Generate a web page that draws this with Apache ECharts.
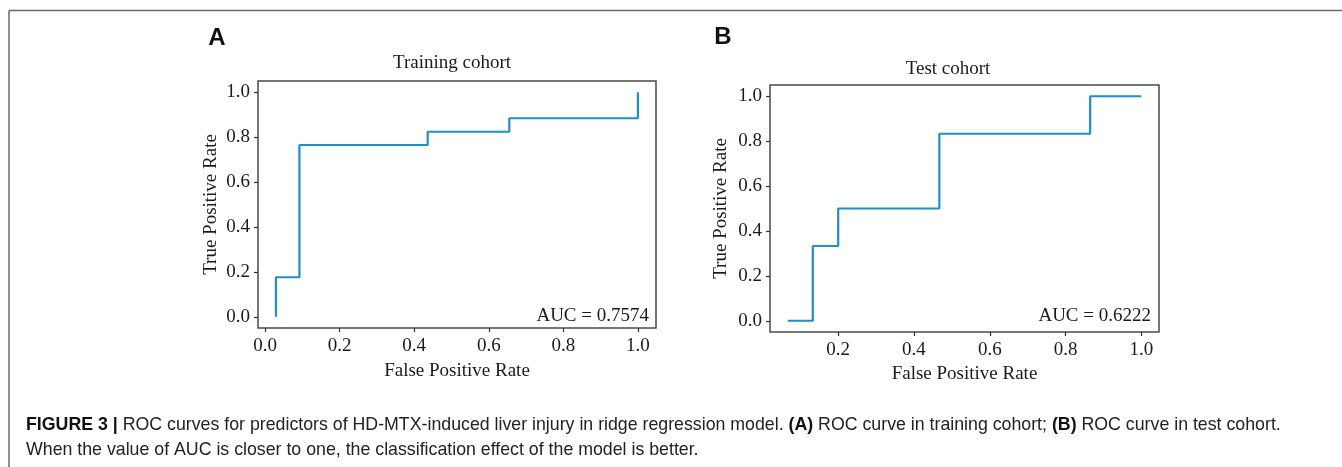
<!DOCTYPE html>
<html><head><meta charset="utf-8">
<script src="https://cdn.jsdelivr.net/npm/echarts@6/dist/echarts.min.js"></script>
<style>html,body{margin:0;padding:0;background:#fff}#c{width:1342px;height:467px}</style>
</head><body><div id="c"></div>
<script>
// ---- data ----
const xTicksA = [0.0, 0.2, 0.4, 0.6, 0.8, 1.0];
const xTicksB = [0.2, 0.4, 0.6, 0.8, 1.0];
const yTicks = [0.0, 0.2, 0.4, 0.6, 0.8, 1.0];
const trainFpr = [0.029, 0.029, 0.092, 0.092, 0.436, 0.436, 0.655, 0.655, 1.0, 1.0];
const trainTpr = [0.0, 0.176, 0.176, 0.765, 0.765, 0.824, 0.824, 0.884, 0.884, 1.0];
const testFpr = [0.067, 0.133, 0.133, 0.2, 0.2, 0.467, 0.467, 0.865, 0.865, 1.0];
const testTpr = [0.0, 0.0, 0.333, 0.333, 0.5, 0.5, 0.833, 0.833, 1.0, 1.0];
const titles = ['Training cohort', 'Test cohort'];
const aucLabels = ['AUC = 0.7574', 'AUC = 0.6222'];
const panelLetters = ['A', 'B'];
const xName = 'False Positive Rate';
const yName = 'True Positive Rate';
const captionLine1 = '{b|FIGURE 3 |} ROC curves for predictors of HD-MTX-induced liver injury in ridge regression model. {b|(A)} ROC curve in training cohort; {b|(B)} ROC curve in test cohort.';
const captionLine2 = 'When the value of AUC is closer to one, the classification effect of the model is better.';

// ---- style ----
const SERIF = '"Liberation Serif","Times New Roman",serif';
const SANS = '"Liberation Sans",Arial,sans-serif';
const TXT = '#1a1a1a';
const LINE = '#1f8fc8';
const FS = 19;
const CFS = 17.75;

function xAxis(gi, min, max, ticks, gap) {
  return {
    type: 'value', gridIndex: gi, min: min, max: max,
    name: xName, nameLocation: 'middle', nameGap: gap,
    nameTextStyle: {fontFamily: SERIF, fontSize: FS, color: TXT},
    axisLine: {show: false, onZero: false},
    axisTick: {show: true, inside: false, customValues: ticks, length: 4, lineStyle: {color: '#333', width: 1.2}},
    axisLabel: {customValues: ticks, formatter: v => v.toFixed(1), margin: 9, fontFamily: SERIF, fontSize: FS, color: TXT},
    splitLine: {show: false}
  };
}
function yAxis(gi, gap) {
  return {
    type: 'value', gridIndex: gi, min: -0.05, max: 1.05,
    name: yName, nameLocation: 'middle', nameGap: gap, nameRotate: 90,
    nameTextStyle: {fontFamily: SERIF, fontSize: FS, color: TXT},
    axisLine: {show: false, onZero: false},
    axisTick: {show: true, inside: false, customValues: yTicks, length: 4, lineStyle: {color: '#333', width: 1.2}},
    axisLabel: {customValues: yTicks, formatter: v => v.toFixed(1), margin: 8, fontFamily: SERIF, fontSize: FS, color: TXT},
    splitLine: {show: false}
  };
}
function txt(x, y, s, opts) {
  return {type: 'text', x: x, y: y, silent: true,
    style: Object.assign({text: s, fill: TXT, fontFamily: SERIF, fontSize: FS, align: 'center', verticalAlign: 'middle'}, opts || {})};
}

const chart = echarts.init(document.getElementById('c'), null, {renderer: 'canvas'});
chart.setOption({
  animation: false,
  backgroundColor: '#fff',
  grid: [
    {left: 258, top: 81, width: 398, height: 247, show: true, borderColor: '#4a4a4a', borderWidth: 1.5, containLabel: false},
    {left: 770, top: 85, width: 389, height: 247, show: true, borderColor: '#4a4a4a', borderWidth: 1.5, containLabel: false}
  ],
  xAxis: [xAxis(0, -0.0191, 1.0485, xTicksA, 34), xAxis(1, 0.0200, 1.0467, xTicksB, 29)],
  yAxis: [yAxis(0, 37), yAxis(1, 39)],
  series: [
    {type: 'line', xAxisIndex: 0, yAxisIndex: 0, data: trainFpr.map((x, i) => [x, trainTpr[i]]),
     showSymbol: false, symbol: 'none', lineStyle: {color: LINE, width: 2.2}, silent: true},
    {type: 'line', xAxisIndex: 1, yAxisIndex: 1, data: testFpr.map((x, i) => [x, testTpr[i]]),
     showSymbol: false, symbol: 'none', lineStyle: {color: LINE, width: 2.2}, silent: true}
  ],
  graphic: [
    {type: 'line', silent: true, shape: {x1: 9, y1: 10.5, x2: 1342, y2: 10.5}, style: {stroke: '#6a6a6a', lineWidth: 1.5}},
    {type: 'line', silent: true, shape: {x1: 9, y1: 10.5, x2: 9, y2: 467}, style: {stroke: '#6a6a6a', lineWidth: 1.5}},
    txt(217, 38, panelLetters[0], {fontFamily: SANS, fontWeight: 'bold', fontSize: 24, fill: '#111'}),
    txt(723, 37, panelLetters[1], {fontFamily: SANS, fontWeight: 'bold', fontSize: 24, fill: '#111'}),
    txt(452, 63, titles[0]),
    txt(948, 69, titles[1]),
    txt(649, 316, aucLabels[0], {align: 'right'}),
    txt(1151, 316, aucLabels[1], {align: 'right'}),
    {type: 'text', x: 26, y: 425, silent: true,
     style: {text: captionLine1, fill: '#222', fontFamily: SANS, fontSize: CFS, align: 'left', verticalAlign: 'middle',
       rich: {b: {fontWeight: 'bold', fontFamily: SANS, fontSize: CFS, fill: '#111'}}}},
    {type: 'text', x: 26, y: 450, silent: true,
     style: {text: captionLine2, fill: '#222', fontFamily: SANS, fontSize: CFS, align: 'left', verticalAlign: 'middle'}}
  ]
});
</script>
</body></html>
